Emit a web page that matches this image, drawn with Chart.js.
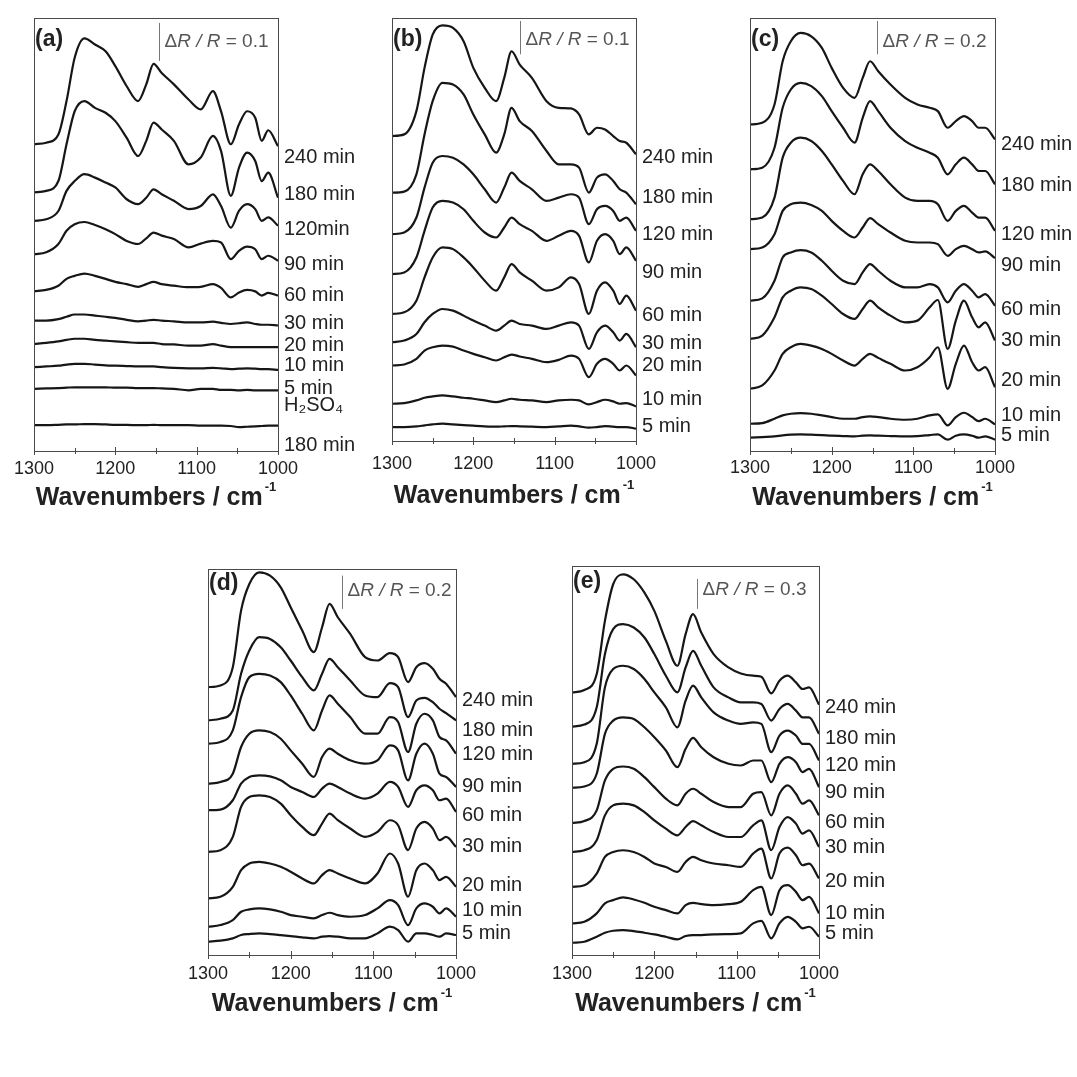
<!DOCTYPE html>
<html>
<head>
<meta charset="utf-8">
<title>In situ IR spectra, panels a-e</title>
<script src="https://cdn.jsdelivr.net/npm/chart.js@4.4.1/dist/chart.umd.min.js"></script>
<style>
  html, body { margin: 0; padding: 0; background: #fff; }
  #stage { position: relative; width: 1077px; height: 1077px; overflow: hidden; background: #fff; }
  #stage canvas { position: absolute; }
</style>
</head>
<body>
<div id="stage"></div>
<script>
/* Stacked dR/R spectra (y in dR/R incl. stacking offset) */
const wn = [1300, 1285, 1270, 1260, 1250, 1238, 1225, 1212, 1200, 1186, 1172, 1162, 1153,
            1143, 1128, 1110, 1095, 1080, 1070, 1058, 1048, 1038, 1028, 1020, 1012, 1000];
const xTicks = [1300, 1200, 1100, 1000];

// (a)
const a240 = [0.809,0.813,0.835,0.923,1.037,1.088,1.072,1.054,1.015,0.962,0.923,0.967,1.021,0.997,0.967,0.927,0.901,0.949,0.896,0.809,0.861,0.896,0.879,0.818,0.846,0.804];
const a180 = [0.682,0.686,0.712,0.809,0.896,0.923,0.905,0.892,0.870,0.826,0.778,0.818,0.866,0.848,0.818,0.756,0.774,0.831,0.791,0.673,0.747,0.787,0.765,0.712,0.734,0.668];
const a120 = [0.607,0.611,0.633,0.686,0.712,0.730,0.721,0.708,0.695,0.664,0.651,0.668,0.690,0.677,0.660,0.638,0.646,0.677,0.646,0.589,0.633,0.651,0.638,0.607,0.616,0.594];
const a90  = [0.519,0.524,0.546,0.581,0.598,0.604,0.596,0.585,0.572,0.554,0.546,0.561,0.576,0.568,0.559,0.537,0.547,0.554,0.550,0.506,0.528,0.539,0.532,0.506,0.515,0.502];
const a60  = [0.421,0.425,0.436,0.454,0.462,0.468,0.462,0.454,0.446,0.440,0.433,0.440,0.446,0.440,0.436,0.432,0.433,0.440,0.430,0.405,0.418,0.425,0.421,0.410,0.417,0.410];
const a30  = [0.344,0.344,0.348,0.354,0.360,0.360,0.357,0.354,0.351,0.346,0.342,0.344,0.346,0.344,0.342,0.339,0.339,0.341,0.338,0.335,0.337,0.339,0.335,0.333,0.333,0.331];
const a20  = [0.282,0.285,0.289,0.293,0.296,0.296,0.293,0.291,0.289,0.287,0.285,0.285,0.285,0.282,0.281,0.278,0.278,0.282,0.278,0.274,0.274,0.274,0.274,0.274,0.274,0.274];
const a10  = [0.221,0.223,0.225,0.228,0.230,0.230,0.228,0.226,0.225,0.224,0.223,0.223,0.223,0.221,0.219,0.218,0.218,0.219,0.218,0.216,0.217,0.218,0.217,0.216,0.216,0.214];
const a5   = [0.164,0.165,0.166,0.167,0.168,0.168,0.168,0.168,0.167,0.167,0.166,0.166,0.166,0.165,0.164,0.160,0.164,0.164,0.161,0.161,0.160,0.161,0.160,0.160,0.160,0.160];
const aAcid = [0.068,0.068,0.069,0.070,0.070,0.071,0.071,0.070,0.069,0.069,0.068,0.068,0.069,0.068,0.068,0.068,0.067,0.067,0.067,0.066,0.063,0.064,0.065,0.066,0.067,0.067];
const aLabels = ['240 min', '180 min', '120min', '90 min', '60 min', '30 min', '20 min', '10 min', '5 min', 'H\u2082SO\u2084', '180 min'];
const aLabelAt = [0.774, 0.677, 0.585, 0.493, 0.410, 0.335, 0.278, 0.225, 0.164, 0.120, 0.015];

// (b)
const b240 = [0.917,0.922,0.992,1.122,1.222,1.250,1.242,1.202,1.122,1.062,1.022,1.092,1.172,1.132,1.092,1.022,1.002,1.000,0.982,0.922,0.942,0.937,0.917,0.902,0.897,0.862];
const b180 = [0.747,0.750,0.802,0.922,1.022,1.077,1.072,1.042,0.982,0.922,0.867,0.922,1.002,0.962,0.932,0.872,0.832,0.832,0.822,0.747,0.792,0.802,0.782,0.757,0.747,0.712];
const b120 = [0.622,0.627,0.672,0.762,0.837,0.857,0.852,0.832,0.802,0.757,0.717,0.762,0.807,0.782,0.757,0.722,0.732,0.742,0.732,0.652,0.697,0.707,0.692,0.662,0.672,0.632];
const b90  = [0.502,0.507,0.552,0.632,0.702,0.722,0.717,0.697,0.662,0.627,0.612,0.642,0.672,0.652,0.632,0.602,0.617,0.632,0.617,0.537,0.602,0.622,0.602,0.562,0.582,0.542];
const b60  = [0.382,0.387,0.422,0.492,0.552,0.582,0.577,0.552,0.522,0.482,0.452,0.492,0.532,0.507,0.482,0.452,0.462,0.492,0.472,0.382,0.452,0.477,0.452,0.412,0.437,0.392];
const b30  = [0.297,0.302,0.322,0.357,0.382,0.397,0.392,0.377,0.362,0.347,0.332,0.347,0.362,0.352,0.347,0.337,0.347,0.357,0.347,0.277,0.327,0.347,0.327,0.302,0.322,0.282];
const b20  = [0.227,0.230,0.247,0.272,0.282,0.287,0.284,0.272,0.262,0.252,0.242,0.252,0.260,0.254,0.247,0.237,0.244,0.257,0.247,0.192,0.232,0.247,0.232,0.212,0.227,0.197];
const b10  = [0.112,0.114,0.122,0.130,0.134,0.137,0.134,0.130,0.127,0.122,0.117,0.122,0.127,0.124,0.122,0.117,0.122,0.124,0.122,0.110,0.117,0.124,0.119,0.112,0.114,0.104];
const b5   = [0.042,0.042,0.044,0.047,0.050,0.052,0.050,0.048,0.046,0.044,0.043,0.044,0.045,0.044,0.043,0.042,0.044,0.046,0.044,0.040,0.042,0.045,0.043,0.042,0.042,0.037];
const timeLabels = ['240 min', '180 min', '120 min', '90 min', '60 min', '30 min', '20 min', '10 min', '5 min'];
const bLabelAt = [0.852, 0.732, 0.622, 0.507, 0.377, 0.292, 0.227, 0.125, 0.044];

// (c)
const c240 = [1.964,1.974,2.084,2.344,2.464,2.514,2.494,2.424,2.304,2.184,2.124,2.244,2.344,2.284,2.204,2.124,2.084,2.064,2.044,1.944,1.984,2.014,1.984,1.944,1.944,1.874];
const c180 = [1.694,1.704,1.824,2.064,2.174,2.214,2.194,2.134,2.044,1.944,1.854,2.004,2.104,2.044,1.944,1.864,1.824,1.794,1.764,1.664,1.724,1.764,1.724,1.684,1.684,1.604];
const c120 = [1.394,1.404,1.524,1.764,1.854,1.884,1.864,1.804,1.724,1.624,1.544,1.664,1.724,1.684,1.604,1.524,1.504,1.504,1.484,1.384,1.444,1.474,1.434,1.404,1.404,1.324];
const c90  = [1.214,1.224,1.304,1.444,1.484,1.494,1.480,1.444,1.384,1.324,1.284,1.344,1.400,1.364,1.314,1.264,1.254,1.254,1.244,1.174,1.214,1.234,1.214,1.194,1.200,1.160];
const c60  = [0.904,0.918,1.024,1.164,1.194,1.208,1.194,1.144,1.084,1.024,1.004,1.074,1.124,1.084,1.024,0.984,0.984,1.004,0.984,0.894,0.964,1.004,0.964,0.924,0.944,0.874];
const c30  = [0.674,0.694,0.804,0.924,0.964,0.984,0.974,0.934,0.884,0.824,0.794,0.854,0.904,0.864,0.814,0.774,0.784,0.864,0.908,0.614,0.784,0.904,0.804,0.744,0.774,0.664];
const c20  = [0.374,0.394,0.484,0.584,0.624,0.644,0.634,0.614,0.584,0.544,0.514,0.554,0.584,0.560,0.524,0.484,0.504,0.564,0.624,0.374,0.524,0.634,0.534,0.484,0.504,0.384];
const c10  = [0.164,0.168,0.194,0.214,0.224,0.228,0.224,0.214,0.204,0.194,0.194,0.204,0.208,0.204,0.194,0.188,0.194,0.214,0.220,0.154,0.204,0.230,0.204,0.180,0.194,0.160];
const c5   = [0.080,0.084,0.088,0.094,0.098,0.100,0.098,0.096,0.092,0.090,0.088,0.092,0.094,0.092,0.090,0.088,0.090,0.096,0.100,0.068,0.092,0.100,0.092,0.080,0.088,0.068];
const cLabelAt = [1.844, 1.594, 1.304, 1.114, 0.854, 0.664, 0.424, 0.214, 0.094];

// (d)
const d240 = [1.610,1.620,1.730,2.070,2.230,2.300,2.280,2.210,2.090,1.950,1.820,1.970,2.110,2.030,1.930,1.790,1.770,1.814,1.790,1.640,1.730,1.754,1.720,1.660,1.630,1.550];
const d180 = [1.410,1.420,1.470,1.690,1.830,1.910,1.900,1.850,1.770,1.670,1.590,1.690,1.780,1.730,1.650,1.560,1.550,1.634,1.610,1.430,1.530,1.546,1.520,1.480,1.454,1.410];
const d120 = [1.270,1.280,1.350,1.550,1.670,1.690,1.680,1.640,1.560,1.450,1.350,1.470,1.560,1.510,1.430,1.330,1.330,1.430,1.400,1.220,1.390,1.450,1.410,1.310,1.290,1.210];
const d90  = [1.030,1.040,1.090,1.250,1.330,1.350,1.340,1.300,1.230,1.150,1.070,1.190,1.240,1.210,1.170,1.150,1.170,1.260,1.230,1.050,1.210,1.270,1.210,1.090,1.070,1.010];
const d60  = [0.870,0.874,0.930,1.030,1.070,1.080,1.074,1.050,1.010,0.980,0.950,1.000,1.030,1.010,0.970,0.940,0.970,1.040,1.010,0.890,0.990,1.020,0.990,0.930,0.940,0.860];
const d30  = [0.620,0.630,0.710,0.890,0.950,0.960,0.950,0.910,0.840,0.770,0.720,0.790,0.850,0.810,0.760,0.710,0.740,0.810,0.780,0.630,0.760,0.800,0.760,0.690,0.710,0.650];
const d20  = [0.340,0.350,0.410,0.510,0.550,0.560,0.550,0.530,0.500,0.460,0.430,0.480,0.510,0.490,0.460,0.430,0.490,0.610,0.550,0.350,0.510,0.550,0.510,0.450,0.470,0.410];
const d10  = [0.170,0.180,0.210,0.260,0.274,0.280,0.274,0.260,0.240,0.230,0.220,0.240,0.254,0.240,0.230,0.240,0.280,0.330,0.300,0.180,0.280,0.310,0.290,0.250,0.280,0.230];
const d5   = [0.080,0.086,0.100,0.120,0.126,0.130,0.126,0.120,0.114,0.106,0.100,0.110,0.114,0.110,0.100,0.100,0.130,0.170,0.150,0.080,0.130,0.130,0.120,0.110,0.130,0.120];
const dLabelAt = [1.530, 1.350, 1.206, 1.014, 0.840, 0.650, 0.420, 0.270, 0.130];

// (e)
const e240 = [2.633,2.657,2.817,3.350,3.717,3.817,3.767,3.633,3.450,3.150,2.900,3.217,3.417,3.233,3.017,2.883,2.823,2.800,2.790,2.623,2.750,2.800,2.733,2.667,2.683,2.510];
const e180 = [2.290,2.310,2.483,3.017,3.267,3.317,3.283,3.183,3.017,2.800,2.633,2.883,3.050,2.900,2.683,2.583,2.533,2.533,2.517,2.350,2.467,2.517,2.450,2.383,2.383,2.217];
const e120 = [1.917,1.933,2.117,2.683,2.867,2.900,2.867,2.767,2.633,2.483,2.283,2.550,2.700,2.583,2.433,2.350,2.317,2.333,2.317,2.033,2.200,2.250,2.200,2.117,2.117,1.950];
const e90  = [1.677,1.690,1.817,2.217,2.350,2.383,2.367,2.283,2.183,2.050,1.883,2.067,2.177,2.083,1.983,1.917,1.900,1.950,1.950,1.733,1.917,1.983,1.933,1.833,1.867,1.683];
const e60  = [1.323,1.343,1.450,1.750,1.867,1.890,1.867,1.783,1.683,1.567,1.500,1.617,1.667,1.617,1.533,1.483,1.483,1.617,1.633,1.400,1.617,1.700,1.617,1.517,1.550,1.400];
const e30  = [1.033,1.050,1.150,1.400,1.500,1.517,1.500,1.433,1.350,1.267,1.200,1.283,1.343,1.300,1.233,1.183,1.183,1.300,1.350,1.050,1.283,1.383,1.317,1.217,1.250,1.083];
const e20  = [0.683,0.700,0.817,0.983,1.033,1.050,1.033,0.983,0.917,0.883,0.833,0.933,0.983,0.950,0.917,0.900,0.883,1.017,1.067,0.767,1.017,1.077,1.000,0.900,0.917,0.767];
const e10  = [0.317,0.333,0.417,0.517,0.550,0.577,0.557,0.523,0.483,0.450,0.417,0.500,0.523,0.510,0.500,0.510,0.533,0.650,0.683,0.400,0.650,0.700,0.633,0.550,0.583,0.417];
const e5   = [0.123,0.133,0.183,0.223,0.243,0.250,0.240,0.223,0.207,0.183,0.157,0.190,0.200,0.200,0.207,0.210,0.217,0.317,0.343,0.167,0.317,0.383,0.333,0.267,0.283,0.183];
const eLabelAt = [2.483, 2.167, 1.900, 1.633, 1.333, 1.077, 0.733, 0.417, 0.217];

// scale bar per panel: [wavenumber, from, to] in dR/R
const aBar = [1146, 1.029, 1.129];
const bBar = [1143, 1.163, 1.263];
const cBar = [1144, 2.386, 2.586];
const dBar = [1138, 2.080, 2.280];
const eBar = [1148, 3.470, 3.770];

const FONT = "'Liberation Sans', Arial, Helvetica, sans-serif";

const panels = [
  { tag: '(a)', series: [a240, a180, a120, a90, a60, a30, a20, a10, a5, aAcid], labels: aLabels, labelAt: aLabelAt,
    yMax: 1.142, bar: aBar, barLabel: '0.1', box: { L: 34, T: 17, R: 278, B: 451 }, tagDy: 22, textDy: 24, tickPad: 7, titleDy: 47 },
  { tag: '(b)', series: [b240, b180, b120, b90, b60, b30, b20, b10, b5], labels: timeLabels, labelAt: bLabelAt,
    yMax: 1.272, bar: bBar, barLabel: '0.1', box: { L: 392, T: 17, R: 636, B: 441 }, tagDy: 22, textDy: 22, tickPad: 12, titleDy: 55 },
  { tag: '(c)', series: [c240, c180, c120, c90, c60, c30, c20, c10, c5], labels: timeLabels, labelAt: cLabelAt,
    yMax: 2.604, bar: cBar, barLabel: '0.2', box: { L: 750, T: 17, R: 995, B: 451 }, tagDy: 22, textDy: 24, tickPad: 6, titleDy: 47 },
  { tag: '(d)', series: [d240, d180, d120, d90, d60, d30, d20, d10, d5], labels: timeLabels, labelAt: dLabelAt,
    yMax: 2.32, bar: dBar, barLabel: '0.2', box: { L: 208, T: 568, R: 456, B: 955 }, tagDy: 15, textDy: 22, tickPad: 8, titleDy: 49 },
  { tag: '(e)', series: [e240, e180, e120, e90, e60, e30, e20, e10, e5], labels: timeLabels, labelAt: eLabelAt,
    yMax: 3.9, bar: eBar, barLabel: '0.3', box: { L: 572, T: 565, R: 819, B: 955 }, tagDy: 16, textDy: 24, tickPad: 8, titleDy: 49 },
];

// frame, ticks, scale bar, panel tag and axis title
const decor = {
  id: 'decor',
  afterDraw(chart, args, o) {
    const { ctx, chartArea: ca, scales: { x, y } } = chart;
    ctx.save();
    ctx.lineWidth = 1;
    ctx.strokeStyle = '#4a4a4a';
    ctx.strokeRect(Math.round(ca.left) + 0.5, Math.round(ca.top) + 0.5, Math.round(ca.width), Math.round(ca.height));

    x.ticks.forEach(t => {
      const px = Math.round(x.getPixelForValue(t.value)) + 0.5;
      const h = t.value % 100 === 0 ? 4 : 3;
      ctx.beginPath();
      ctx.moveTo(px, ca.bottom - h);
      ctx.lineTo(px, ca.bottom + h);
      ctx.stroke();
    });

    const bx = Math.round(x.getPixelForValue(o.bar[0])) + 0.5;
    ctx.strokeStyle = '#777';
    ctx.beginPath();
    ctx.moveTo(bx, y.getPixelForValue(o.bar[1]));
    ctx.lineTo(bx, y.getPixelForValue(o.bar[2]));
    ctx.stroke();

    ctx.fillStyle = '#555';
    ctx.textBaseline = 'middle';
    ctx.textAlign = 'left';
    let tx = bx + 5;
    const ty = ca.top + o.textDy;
    [['\u0394', ''], ['R / R', 'italic '], [' = ' + o.barLabel, '']].forEach(([s, st]) => {
      ctx.font = st + '19px ' + FONT;
      ctx.fillText(s, tx, ty);
      tx += ctx.measureText(s).width;
    });

    ctx.fillStyle = '#222';
    ctx.font = 'bold 23px ' + FONT;
    ctx.fillText(o.tag, ca.left + 1, ca.top + o.tagDy);

    const main = 'Wavenumbers / cm', sup = '-1';
    ctx.font = 'bold 25px ' + FONT;
    const w1 = ctx.measureText(main).width;
    ctx.font = 'bold 13px ' + FONT;
    const w2 = ctx.measureText(sup).width;
    const sx = (ca.left + ca.right) / 2 - (w1 + w2 + 2) / 2;
    const sy = ca.bottom + o.titleDy;
    ctx.font = 'bold 25px ' + FONT;
    ctx.fillText(main, sx, sy);
    ctx.font = 'bold 13px ' + FONT;
    ctx.fillText(sup, sx + w1 + 2, sy - 11);
    ctx.restore();
  }
};

const stage = document.getElementById('stage');
const PAD_L = 40, PAD_T = 17, AX_R = 82, AX_B = 75;

panels.forEach(p => {
  const { L, T, R, B } = p.box;
  const canvas = document.createElement('canvas');
  canvas.width = (R + AX_R) - (L - PAD_L);
  canvas.height = (B + AX_B) - (T - PAD_T);
  canvas.style.left = (L - PAD_L) + 'px';
  canvas.style.top = (T - PAD_T) + 'px';
  stage.appendChild(canvas);

  new Chart(canvas, {
    type: 'line',
    data: {
      datasets: p.series.map(s => ({
        data: s.map((v, i) => ({ x: wn[i], y: v })),
        borderColor: '#161616',
        borderWidth: 2.2,
        pointRadius: 0,
        fill: false,
        cubicInterpolationMode: 'monotone',
      }))
    },
    options: {
      responsive: false,
      animation: false,
      devicePixelRatio: 1,
      layout: { padding: { left: PAD_L, top: PAD_T, right: 0, bottom: 0 } },
      plugins: {
        legend: { display: false },
        tooltip: { enabled: false },
        decor: { bar: p.bar, barLabel: p.barLabel, tag: p.tag, tagDy: p.tagDy, textDy: p.textDy, titleDy: p.titleDy },
      },
      scales: {
        x: {
          type: 'linear',
          reverse: true,
          min: 1000,
          max: 1300,
          grid: { display: false, drawTicks: false },
          border: { display: false },
          afterFit: axis => { axis.height = AX_B; },
          ticks: {
            stepSize: 50,
            autoSkip: false,
            maxRotation: 0,
            padding: p.tickPad,
            color: '#222',
            font: { family: FONT, size: 18 },
            callback: v => (xTicks.includes(v) ? String(v) : ''),
          },
        },
        y: {
          type: 'linear',
          position: 'right',
          min: 0,
          max: p.yMax,
          grid: { display: false, drawTicks: false },
          border: { display: false },
          afterBuildTicks: axis => { axis.ticks = p.labelAt.map(v => ({ value: v })); },
          afterFit: axis => { axis.width = AX_R; },
          ticks: {
            autoSkip: false,
            padding: 6,
            color: '#222',
            font: { family: FONT, size: 20 },
            callback: (v, i) => p.labels[i],
          },
        },
      },
    },
    plugins: [decor],
  });
});
</script>
</body>
</html>
